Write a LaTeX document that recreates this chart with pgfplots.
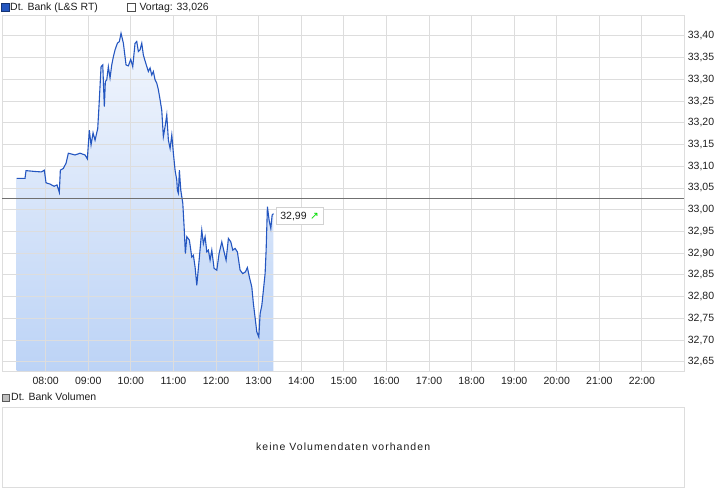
\documentclass[border=0pt]{standalone}
\usepackage{fontspec}
\setmainfont{Liberation Sans}
\newfontfamily\symbfont{DejaVu Sans}
\newfontfamily\spacedfont[LetterSpace=10]{Liberation Sans}
\usepackage{pgfplots}
\pgfplotsset{compat=1.18}
\usepackage{pgfplotstable}

\definecolor{linec}{RGB}{36,86,192}
\definecolor{filltop}{RGB}{242,246,253}
\definecolor{fillbot}{RGB}{188,211,246}
\definecolor{gridc}{RGB}{221,221,221}
\definecolor{prevc}{RGB}{112,112,112}
\definecolor{txt}{RGB}{30,30,30}
\definecolor{boxc}{RGB}{210,210,210}
\definecolor{upgreen}{RGB}{0,220,0}

% Dt. Bank (L&S RT), time in hours, price in EUR
\pgfplotstableread{
t v
7.319 33.072
7.514 33.072
7.538 33.090
7.749 33.088
7.900 33.087
7.968 33.091
8.008 33.062
8.102 33.059
8.196 33.054
8.266 33.057
8.320 33.040
8.344 33.091
8.414 33.095
8.478 33.107
8.532 33.130
8.689 33.126
8.806 33.130
8.924 33.126
8.978 33.117
9.025 33.183
9.065 33.149
9.112 33.177
9.159 33.160
9.222 33.187
9.253 33.241
9.300 33.329
9.340 33.333
9.377 33.237
9.401 33.295
9.434 33.299
9.471 33.329
9.511 33.303
9.551 33.333
9.589 33.352
9.629 33.368
9.683 33.383
9.730 33.387
9.769 33.406
9.824 33.383
9.887 33.333
9.941 33.331
9.997 33.346
10.044 33.329
10.098 33.383
10.138 33.387
10.176 33.364
10.216 33.368
10.256 33.383
10.293 33.356
10.350 33.337
10.411 33.318
10.451 33.326
10.491 33.310
10.528 33.318
10.568 33.299
10.608 33.291
10.646 33.276
10.686 33.253
10.725 33.229
10.763 33.168
10.803 33.191
10.843 33.218
10.881 33.160
10.921 33.141
10.961 33.172
10.998 33.130
11.038 33.091
11.078 33.068
11.092 33.045
11.116 33.038
11.139 33.091
11.172 33.045
11.219 33.015
11.250 32.961
11.280 32.899
11.313 32.938
11.374 32.930
11.430 32.891
11.468 32.895
11.508 32.868
11.548 32.826
11.609 32.891
11.665 32.953
11.703 32.922
11.743 32.938
11.783 32.903
11.820 32.907
11.860 32.884
11.900 32.907
11.954 32.865
12.018 32.861
12.071 32.899
12.135 32.926
12.189 32.903
12.236 32.884
12.290 32.934
12.347 32.926
12.393 32.907
12.447 32.911
12.501 32.903
12.565 32.861
12.628 32.853
12.689 32.857
12.736 32.867
12.783 32.845
12.840 32.822
12.877 32.784
12.924 32.746
12.957 32.719
13.004 32.707
13.035 32.761
13.075 32.780
13.112 32.815
13.152 32.853
13.176 32.907
13.206 33.007
13.246 32.976
13.286 32.957
13.317 32.988
13.348 32.991
}\price

% the y axis is drawn relative to its lower edge (32.629), so that
% \closedcycle closes the area on the bottom of the chart
\def\ybase{32.629}

\pgfplotsset{
  pricebox/.style={
    at={(2pt,125pt)}, anchor=south west,
    width=682.3pt, height=356pt, scale only axis,
    xmin=6.974, xmax=22.995,
    ymin=0, ymax=0.819,
  },
}

\begin{document}
\begin{tikzpicture}[font=\fontsize{10.5}{12}\selectfont]
\path[use as bounding box] (0,0) rectangle (726pt,496pt);

% legend line above the price chart
\draw[fill=linec, draw=linec!60!black] (1pt,485pt) rectangle (8.7pt,492.7pt);
\node[anchor=base west, inner sep=0pt, text=txt] at (10pt,485pt) {Dt. Bank (L\&S RT)};
\draw[fill=white, draw=black!70] (127pt,485pt) rectangle (134.7pt,492.7pt);
\node[anchor=base west, inner sep=0pt, text=txt] at (139.3pt,485pt) {Vortag: 33,026};

% area under the price, below the grid
\begin{axis}[pricebox, hide axis]
\addplot[draw=none, top color=filltop, bottom color=fillbot]
  table[x=t, y expr=\thisrow{v}-\ybase] {\price} \closedcycle;
\end{axis}

\begin{axis}[
pricebox,
xtick={8,9,...,22},
xticklabels={08:00,09:00,10:00,11:00,12:00,13:00,14:00,15:00,16:00,17:00,18:00,19:00,20:00,21:00,22:00},
ytick={0.021,0.071,0.121,0.171,0.221,0.271,0.321,0.371,0.421,0.471,0.521,0.571,0.621,0.671,0.721,0.771},
yticklabels={{32,65},{32,70},{32,75},{32,80},{32,85},{32,90},{32,95},{33,00},{33,05},{33,10},{33,15},{33,20},{33,25},{33,30},{33,35},{33,40}},
yticklabel pos=right,
major tick length=0pt,
grid=major,
grid style={gridc, line width=0.9pt},
axis line style={gridc, line width=0.9pt},
tick label style={font=\fontsize{10.5}{12}\selectfont, text=txt},
xticklabel style={yshift=-3pt},
]
\addplot[linec, line width=1.1pt] table[x=t, y expr=\thisrow{v}-\ybase] {\price};
\addplot[prevc, line width=0.9pt] coordinates {(6.974,0.397) (22.995,0.397)};
% last price with its box
\addplot[draw=none, nodes near coords={32,99\hspace{3.5pt}{\symbfont\textcolor{upgreen}{↗}}},
  nodes near coords style={anchor=west, xshift=2.7pt, yshift=-2.5pt, draw=boxc, fill=white,
    inner xsep=4pt, inner ysep=4.3pt, text height=7.6pt, text depth=0.8pt, text=txt,
    font=\fontsize{10.5}{12}\selectfont}]
  coordinates {(13.348,0.362)};
\end{axis}

% volume panel
\draw[fill=black!25, draw=black!65] (2.2pt,94.7pt) rectangle (9pt,101.5pt);
\node[anchor=base west, inner sep=0pt, text=txt] at (11pt,95.2pt) {Dt. Bank Volumen};
\begin{axis}[
at={(2pt,8.7pt)}, anchor=south west,
width=682.3pt, height=80pt, scale only axis,
xmin=0, xmax=1, ymin=0, ymax=1,
xtick=\empty, ytick=\empty,
axis line style={gridc, line width=0.9pt},
]
\addplot[draw=none] coordinates {(0,0) (1,1)};
\node[anchor=base, inner sep=0pt, text=txt] at (rel axis cs:0.5,0.4575) {\spacedfont keine Volumendaten vorhanden};
\end{axis}
\end{tikzpicture}
\end{document}
